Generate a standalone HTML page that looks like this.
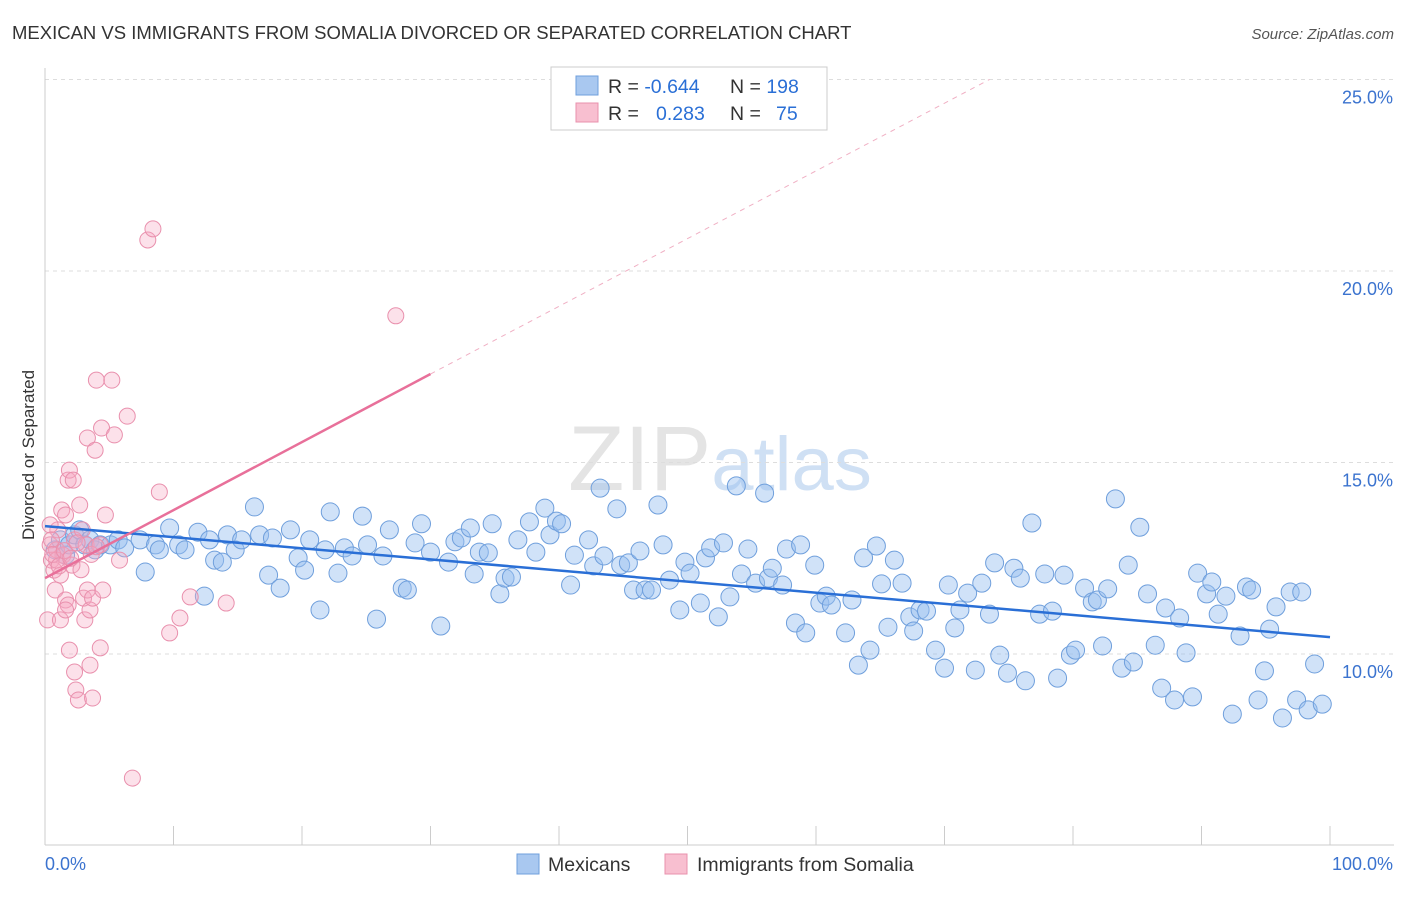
<!DOCTYPE html>
<html><head><meta charset="utf-8"><style>
body{margin:0;background:#fff;font-family:"Liberation Sans",sans-serif;}
svg text{font-family:"Liberation Sans",sans-serif;}
</style></head><body>
<svg id="chart" width="1406" height="892" xmlns="http://www.w3.org/2000/svg">
<text x="12" y="39" font-size="18.5" fill="#333">MEXICAN VS IMMIGRANTS FROM SOMALIA DIVORCED OR SEPARATED CORRELATION CHART</text>
<text x="1394" y="39" font-size="15" fill="#555" text-anchor="end" font-style="italic">Source: ZipAtlas.com</text>
<text x="720" y="490" font-size="92" text-anchor="middle" fill="#e4e4e4" font-family="Liberation Serif,serif">ZIP<tspan fill="#cfe0f4" font-family="Liberation Sans,sans-serif" font-size="76">atlas</tspan></text>
<g id="grid"></g>
<g id="axes"></g>
<text transform="translate(34,455) rotate(-90)" font-size="17" fill="#333" text-anchor="middle">Divorced or Separated</text>
<g id="pts"></g>
<g id="lines"></g>
<g>
<rect x="551" y="67" width="276" height="63" fill="#fff" stroke="#ccc"/>
<rect x="576" y="76" width="22" height="19" fill="#a9c8f0" stroke="#6f9fdc"/>
<rect x="576" y="103" width="22" height="19" fill="#f8bfd0" stroke="#e990ad"/>
<text x="608" y="93" font-size="19.5" fill="#333">R = <tspan fill="#2a6fd6">-0.644</tspan><tspan x="730">N = </tspan><tspan fill="#2a6fd6">198</tspan></text>
<text x="608" y="120" font-size="19.5" fill="#333">R = <tspan x="656" fill="#2a6fd6">0.283</tspan><tspan x="730">N = </tspan><tspan x="776" fill="#2a6fd6">75</tspan></text>
</g>
<g>
<rect x="517" y="854" width="22" height="20" fill="#a9c8f0" stroke="#6f9fdc"/>
<text x="548" y="871" font-size="19.5" fill="#333">Mexicans</text>
<rect x="665" y="854" width="22" height="20" fill="#f8bfd0" stroke="#e990ad"/>
<text x="697" y="871" font-size="19.5" fill="#333">Immigrants from Somalia</text>
</g>
</svg>
<script>
const yTicks=[10,15,20,25];
const yTickLabels=["10.0%","15.0%","20.0%","25.0%"];
const xEndLabels=["0.0%","100.0%"];
const blueX=[0.8,1.2,1.6,1.9,2.3,2.7,3.1,3.5,3.9,4.3,5.1,5.7,6.2,7.4,7.8,8.6,8.9,9.7,10.4,10.9,11.9,12.4,12.8,13.2,13.8,14.2,14.8,15.3,16.3,16.7,17.4,17.7,18.3,19.1,19.7,20.2,20.6,21.4,21.8,22.2,22.8,23.3,23.9,24.7,25.1,25.8,26.3,26.8,27.8,28.2,28.8,29.3,30.0,30.8,31.4,31.9,32.4,33.1,33.4,33.8,34.5,34.8,35.4,35.8,36.3,36.8,37.7,38.2,38.9,39.3,39.8,40.2,40.9,41.2,42.3,42.7,43.2,43.5,44.5,44.8,45.4,45.8,46.3,46.7,47.2,47.7,48.1,48.6,49.4,49.8,50.2,51.0,51.4,51.8,52.4,52.8,53.3,53.8,54.2,54.7,55.3,56.0,56.3,56.6,57.4,57.7,58.4,58.8,59.2,59.9,60.3,60.8,61.2,62.3,62.8,63.3,63.7,64.2,64.7,65.1,65.6,66.1,66.7,67.3,67.6,68.1,68.6,69.3,70.0,70.3,70.8,71.2,71.8,72.4,72.9,73.5,73.9,74.3,74.9,75.4,75.9,76.3,76.8,77.4,77.8,78.4,78.8,79.3,79.8,80.2,80.9,81.5,81.9,82.3,82.7,83.3,83.8,84.3,84.7,85.2,85.8,86.4,86.9,87.2,87.9,88.3,88.8,89.3,89.7,90.4,90.8,91.3,91.9,92.4,93.0,93.5,93.9,94.4,94.9,95.3,95.8,96.3,96.9,97.4,97.8,98.3,98.8,99.4];
const blueY=[12.72,12.98,12.58,12.85,13.11,13.24,12.85,12.98,12.72,12.85,12.85,12.98,12.77,12.98,12.14,12.85,12.72,13.29,12.85,12.72,13.18,11.51,12.98,12.45,12.40,13.11,12.72,12.98,13.84,13.11,12.06,13.03,11.72,13.24,12.51,12.19,12.98,11.15,12.72,13.71,12.11,12.77,12.56,13.60,12.85,10.91,12.56,13.24,11.72,11.67,12.90,13.40,12.66,10.73,12.40,12.93,13.03,13.29,12.09,12.66,12.64,13.40,11.57,11.98,12.01,12.98,13.45,12.66,13.81,13.11,13.47,13.40,11.80,12.58,12.98,12.30,14.33,12.56,13.79,12.32,12.38,11.67,12.69,11.67,11.67,13.89,12.85,11.93,11.15,12.40,12.11,11.33,12.51,12.77,10.97,12.90,11.49,14.39,12.09,12.74,11.85,14.20,11.98,12.24,11.80,12.74,10.81,12.85,10.55,12.32,11.33,11.51,11.28,10.55,11.41,9.71,12.51,10.10,12.82,11.83,10.70,12.45,11.85,10.97,10.60,11.15,11.12,10.10,9.63,11.80,10.68,11.15,11.59,9.58,11.85,11.04,12.38,9.97,9.50,12.24,11.98,9.30,13.42,11.04,12.09,11.12,9.37,12.06,9.97,10.10,11.72,11.36,11.41,10.21,11.70,14.05,9.63,12.32,9.79,13.31,11.57,10.23,9.11,11.20,8.80,10.94,10.03,8.88,12.11,11.57,11.88,11.04,11.51,8.43,10.47,11.75,11.67,8.80,9.56,10.65,11.23,8.33,11.62,8.80,11.62,8.54,9.74,8.69];
const pinkX=[0.4,0.5,0.7,0.8,0.9,1.0,1.2,1.3,1.4,1.6,1.6,1.8,1.8,1.9,1.9,2.1,2.2,2.3,2.3,2.4,2.6,2.7,2.9,3.0,3.1,3.2,3.3,3.3,3.5,3.5,3.7,3.7,3.9,4.0,4.3,4.3,4.4,4.5,4.7,5.2,5.4,5.8,6.4,6.8,8.0,8.4,8.9,9.7,10.5,11.3,14.1,27.3,0.2,0.4,1.2,1.6,0.5,0.9,0.6,1.1,1.5,2.0,2.5,3.6,4.0,2.8];
const pinkY=[12.85,12.45,12.19,11.67,12.72,13.24,12.06,13.76,12.58,13.63,11.41,14.54,11.28,14.80,10.10,12.32,14.54,12.98,9.53,9.06,8.80,13.89,13.24,11.46,10.89,12.85,15.64,11.67,11.15,9.71,8.85,11.46,15.32,17.15,12.85,10.16,15.90,11.67,13.63,17.15,15.72,12.45,16.21,6.76,20.81,21.10,14.23,10.55,10.94,11.49,11.33,18.83,10.89,13.37,10.89,11.15,12.98,12.45,12.6,12.3,12.7,12.5,12.9,12.6,12.8,12.2];
const blueTrend=[[0,13.34],[100,10.44]];
const pinkTrend=[[0,11.98],[30,17.31]];
const pinkTrendDash=[[30,17.31],[73.5,25.0]];

const NS="http://www.w3.org/2000/svg";
const X0=45,X1=1330,Y10=654,PX=38.3;
function xs(v){return X0+(X1-X0)*v/100;}
function ys(v){return Y10-(v-10)*PX;}
function mk(t,a,p){const e=document.createElementNS(NS,t);for(const k in a)e.setAttribute(k,a[k]);p.appendChild(e);return e;}
const grid=document.getElementById('grid'),axes=document.getElementById('axes');
yTicks.forEach((t,i)=>{
 const l=mk('line',{x1:45,x2:1394,y1:ys(t),y2:ys(t),stroke:'#ddd','stroke-dasharray':'4,4'},grid);
 
 
 const tx=mk('text',{x:1393,y:ys(t)+24,'font-size':18,fill:'#3b73cf','text-anchor':'end'},axes);
 tx.textContent=yTickLabels[i];
 
 
});
const ax=mk('line',{x1:45,x2:45,y1:68,y2:845,stroke:'#ccc'},axes);


const bx=mk('line',{x1:45,x2:1394,y1:845,y2:845,stroke:'#ccc'},axes);


for(let i=0;i<=10;i++){
 const t=mk('line',{x1:xs(i*10),x2:xs(i*10),y1:826,y2:845,stroke:'#ccc'},axes);
 
 
}
const xl0=mk('text',{x:45,y:870,'font-size':18,fill:'#3b73cf'},axes);xl0.textContent=xEndLabels[0];


const xl1=mk('text',{x:1393,y:870,'font-size':18,fill:'#3b73cf','text-anchor':'end'},axes);xl1.textContent=xEndLabels[1];


const pts=document.getElementById('pts');
blueX.forEach((x,i)=>{
 const c=mk('circle',{cx:xs(x),cy:ys(blueY[i]),r:9,fill:'rgba(150,190,240,0.45)',stroke:'#6f9fdc','stroke-width':1},pts);
 
 
});
pinkX.forEach((x,i)=>{
 const c=mk('circle',{cx:xs(x),cy:ys(pinkY[i]),r:8,fill:'rgba(245,170,195,0.35)',stroke:'#e990ad','stroke-width':1},pts);
 
 
});
const lines=document.getElementById('lines');
const bl=mk('line',{x1:xs(blueTrend[0][0]),y1:ys(blueTrend[0][1]),x2:xs(blueTrend[1][0]),y2:ys(blueTrend[1][1]),stroke:'#2a6fd6','stroke-width':2.5},lines);


const pl=mk('line',{x1:xs(pinkTrend[0][0]),y1:ys(pinkTrend[0][1]),x2:xs(pinkTrend[1][0]),y2:ys(pinkTrend[1][1]),stroke:'#e8709a','stroke-width':2.5},lines);


const pd=mk('line',{x1:xs(pinkTrendDash[0][0]),y1:ys(pinkTrendDash[0][1]),x2:xs(pinkTrendDash[1][0]),y2:ys(pinkTrendDash[1][1]),stroke:'#f0b0c4','stroke-width':1,'stroke-dasharray':'5,5'},lines);


</script>
</body></html>
